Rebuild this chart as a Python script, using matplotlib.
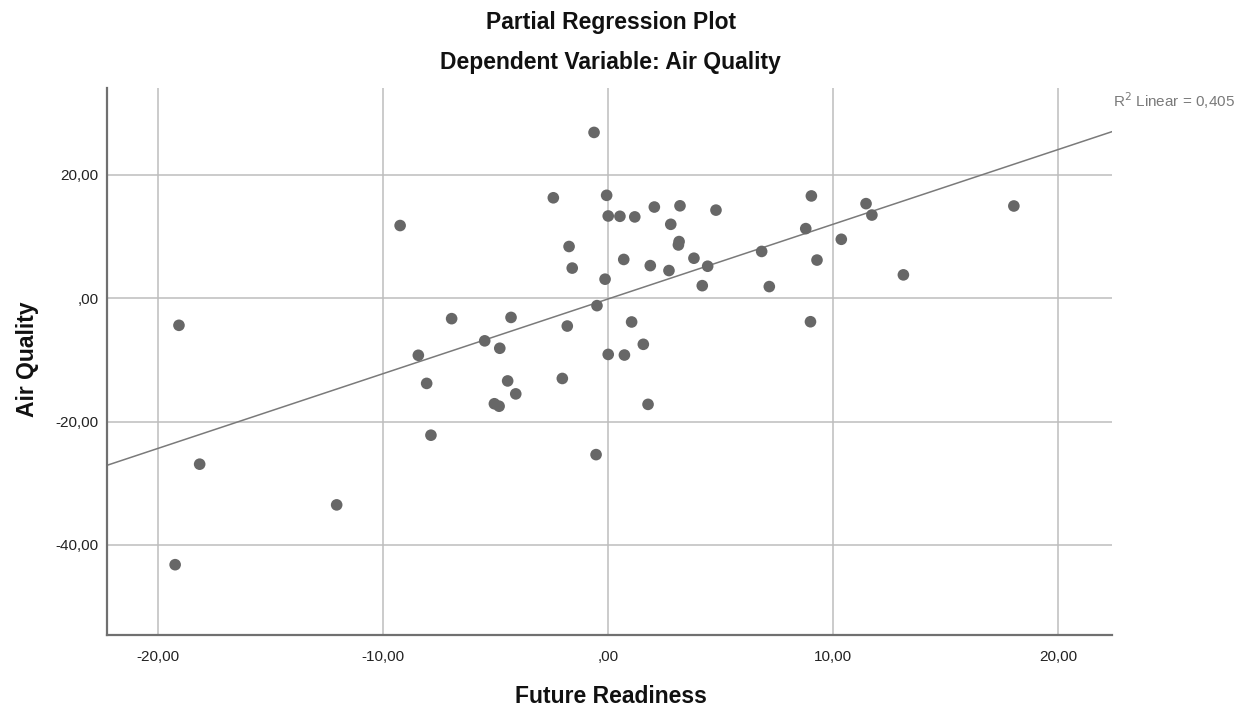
import matplotlib
matplotlib.use('Agg')
import matplotlib.pyplot as plt
import numpy as np
from matplotlib.ticker import FuncFormatter

plt.rcParams['font.family'] = ['Liberation Sans', 'DejaVu Sans']

# partial residuals
future_readiness = [-19.07, -18.15, -19.24, -12.06, -9.24, -8.43, -8.06, -7.87, -6.95, -5.48,
                    -4.81, -4.31, -4.46, -4.10, -5.05, -4.84, -0.62, -2.43, -0.06, 0.01,
                    0.53, 1.19, 2.06, 3.20, 4.80, 2.79, 3.16, 3.13, -1.73, -1.59,
                    0.70, -0.13, 1.88, 2.71, 3.82, 4.43, 4.19, 6.83, 7.17, 9.04,
                    8.79, 9.29, 10.37, 11.47, 11.73, 13.13, 18.04, -0.49, -1.81, 1.05,
                    9.00, 1.57, 0.01, 0.73, -2.03, 1.78, -0.53]
air_quality = [-4.38, -26.9, -43.2, -33.5, 11.8, -9.24, -13.8, -22.2, -3.3, -6.9,
               -8.1, -3.1, -13.4, -15.5, -17.1, -17.5, 26.9, 16.3, 16.7, 13.35,
               13.3, 13.2, 14.8, 15.0, 14.3, 12.0, 9.2, 8.65, 8.4, 4.9,
               6.3, 3.1, 5.3, 4.5, 6.5, 5.2, 2.05, 7.6, 1.9, 16.6,
               11.3, 6.2, 9.57, 15.35, 13.5, 3.8, 14.97, -1.19, -4.5, -3.84,
               -3.8, -7.46, -9.1, -9.2, -13.0, -17.2, -25.35]
xticks = [-20, -10, 0, 10, 20]
yticks = [-40, -20, 0, 20]
r2_label = 'R$^2$ Linear = 0,405'

x = np.array(future_readiness)
y = np.array(air_quality)
slope, intercept = np.polyfit(x, y, 1)
print('slope', slope, 'intercept', intercept)

def spss_fmt(v, pos):
    s = '{:.2f}'.format(v).replace('.', ',')
    if s.startswith('0,'):
        s = s[1:]
    elif s.startswith('-0,'):
        s = '-' + s[2:]
    return s

fig = plt.figure(figsize=(12.57, 7.11), dpi=100)
ax = fig.add_axes([0.0851, 0.1069, 0.7995, 0.7693])

ax.set_xlim(-22.27, 22.4)
ax.set_ylim(-54.6, 34.1)
ax.set_xticks(xticks)
ax.set_yticks(yticks)
ax.xaxis.set_major_formatter(FuncFormatter(spss_fmt))
ax.yaxis.set_major_formatter(FuncFormatter(spss_fmt))
ax.grid(True, color='#bdbdbd', linewidth=1.1)
ax.set_axisbelow(True)

for side in ['top', 'right']:
    ax.spines[side].set_visible(False)
for side in ['left', 'bottom']:
    ax.spines[side].set_color('#707070')
    ax.spines[side].set_linewidth(1.6)
ax.tick_params(length=0, labelsize=11, colors='#222222')
ax.tick_params(axis='x', pad=11)
ax.tick_params(axis='y', pad=6)

# fit line across the full x range
xl = np.array(ax.get_xlim())
ax.plot(xl, slope * xl + intercept, color='#7a7a7a', linewidth=1.1, zorder=2)
ax.scatter(x, y, s=70, color='#676767', edgecolors='none', zorder=3)

fig.text(0.486, 0.968, 'Partial Regression Plot', ha='center', va='center',
         fontsize=16.5, fontweight='bold', color='#111111')
fig.text(0.486, 0.912, 'Dependent Variable: Air Quality', ha='center', va='center',
         fontsize=16.5, fontweight='bold', color='#111111')
fig.text(0.486, 0.02, 'Future Readiness', ha='center', va='center',
         fontsize=16.5, fontweight='bold', color='#111111')
fig.text(0.0215, 0.495, 'Air Quality', ha='center', va='center', rotation=90,
         fontsize=16.5, fontweight='bold', color='#111111')
fig.text(0.8855, 0.859, r2_label, ha='left', va='center', fontsize=11, color='#7a7a7a')

fig.savefig('out.png', dpi=100)
